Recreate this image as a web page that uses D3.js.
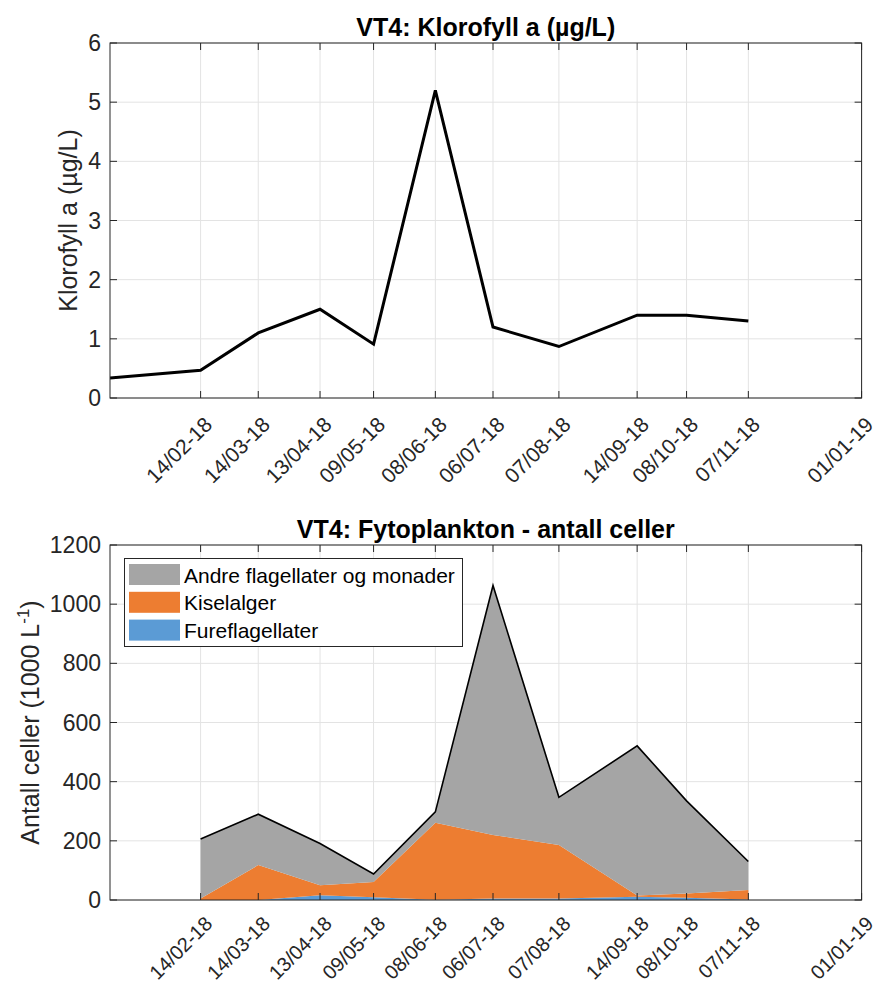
<!DOCTYPE html>
<html>
<head>
<meta charset="utf-8">
<script src="https://cdn.jsdelivr.net/npm/d3@7"></script>
<style>
  body { margin: 0; background: #fff; }
  text { font-family: "Liberation Sans", Arial, Helvetica, sans-serif; fill: #262626; }
</style>
</head>
<body>
<div id="chart"></div>
<script>
// Sample dates (also used as x ticks)
const sampleDates = ['2018-02-14', '2018-03-14', '2018-04-13', '2018-05-09', '2018-06-08',
  '2018-07-06', '2018-08-07', '2018-09-14', '2018-10-08', '2018-11-07']
const extraTick = '2019-01-01'

// Klorofyll a (µg/L), first point at the start of the axis
const chlDates = ['2018-01-01', ...sampleDates]
const chlValues = [0.34, 0.47, 1.1, 1.5, 0.91, 5.2, 1.2, 0.87, 1.4, 1.4, 1.3]

// Fytoplankton (1000 celler/L)
const fureflagellater = [0, 0, 16, 9, 1, 5, 5, 11, 8, 2]
const kiselalger = [5, 118, 34, 52, 260, 215, 181, 4, 14, 32]
const andre = [201, 172, 141, 27, 37, 843, 161, 506, 313, 96]

const seriesNames = ['Fureflagellater', 'Kiselalger', 'Andre flagellater og monader']
const seriesColors = ['#5b9bd5', '#ed7d31', '#a5a5a5']

const chlTicks = [0, 1, 2, 3, 4, 5, 6]
const cellTicks = [0, 200, 400, 600, 800, 1000, 1200]

const width = 878
const height = 989
const parse = d3.utcParse('%Y-%m-%d')
const fmt = d3.utcFormat('%d/%m-%y')

const svg = d3.select('#chart').append('svg')
  .attr('width', width)
  .attr('height', height)

svg.append('rect').attr('width', width).attr('height', height).attr('fill', '#fff')

const x = d3.scaleUtc()
  .domain([parse('2018-01-01'), parse('2019-01-01')])
  .range([110, 861.6])

const xTicks = [...sampleDates, extraTick].map(parse)

// Draws grid, title and tick labels for one panel
function drawAxes(y, yTicks, title, top, bottom, labelSize, labelOffset) {
  const g = svg.append('g')

  // grid
  g.selectAll('.vgrid').data(xTicks).join('line')
    .attr('x1', d => x(d)).attr('x2', d => x(d))
    .attr('y1', top).attr('y2', bottom)
    .attr('stroke', '#e3e3e3').attr('stroke-width', 1)
  g.selectAll('.hgrid').data(yTicks).join('line')
    .attr('x1', x.range()[0]).attr('x2', x.range()[1])
    .attr('y1', d => y(d)).attr('y2', d => y(d))
    .attr('stroke', '#e3e3e3').attr('stroke-width', 1)

  // title
  g.append('text')
    .attr('x', (x.range()[0] + x.range()[1]) / 2)
    .attr('y', top - 7)
    .attr('text-anchor', 'middle')
    .attr('font-size', 25)
    .attr('font-weight', 'bold')
    .style('fill', '#000')
    .text(title)

  // y tick labels
  g.selectAll('.ylab').data(yTicks).join('text')
    .attr('x', 101)
    .attr('y', d => y(d))
    .attr('dy', '0.35em')
    .attr('text-anchor', 'end')
    .attr('font-size', 23)
    .text(d => d)

  // x tick labels, rotated
  g.selectAll('.xlab').data(xTicks).join('text')
    .attr('transform', d => `translate(${x(d) + 13},${bottom + labelOffset}) rotate(-45)`)
    .attr('text-anchor', 'end')
    .attr('font-size', labelSize)
    .text(d => fmt(d))

  return g
}

function drawFrame(y, yTicks, top, bottom) {
  const g = svg.append('g')
  const [x0, x1] = x.range()
  const tl = 7
  g.selectAll('.xt').data(xTicks).join('path')
    .attr('d', d => `M${x(d)},${bottom}v${-tl}M${x(d)},${top}v${tl}`)
    .attr('stroke', '#262626').attr('stroke-width', 1)
  g.selectAll('.yt').data(yTicks).join('path')
    .attr('d', d => `M${x0},${y(d)}h${tl}M${x1},${y(d)}h${-tl}`)
    .attr('stroke', '#262626').attr('stroke-width', 1)
  g.append('rect')
    .attr('x', x0).attr('y', top)
    .attr('width', x1 - x0).attr('height', bottom - top)
    .attr('fill', 'none').attr('stroke', '#262626').attr('stroke-width', 1)
}

// ---------- Top panel: Klorofyll a ----------
const top1 = 43, bot1 = 398
const y1 = d3.scaleLinear().domain([0, 6]).range([bot1, top1])
drawAxes(y1, chlTicks, 'VT4: Klorofyll a (µg/L)', top1, bot1, 21, 28)

svg.append('clipPath').attr('id', 'clip1')
  .append('rect').attr('x', x.range()[0]).attr('y', top1)
  .attr('width', x.range()[1] - x.range()[0]).attr('height', bot1 - top1)

const chlData = chlDates.map((d, i) => ({ date: parse(d), value: chlValues[i] }))
svg.append('path')
  .datum(chlData)
  .attr('clip-path', 'url(#clip1)')
  .attr('d', d3.line().x(d => x(d.date)).y(d => y1(d.value)))
  .attr('fill', 'none')
  .attr('stroke', '#000')
  .attr('stroke-width', 3)
  .attr('stroke-linejoin', 'miter')

drawFrame(y1, chlTicks, top1, bot1)

svg.append('text')
  .attr('transform', `translate(77,${(top1 + bot1) / 2}) rotate(-90)`)
  .attr('text-anchor', 'middle')
  .attr('font-size', 25)
  .text('Klorofyll a (µg/L)')

// ---------- Bottom panel: Fytoplankton ----------
const top2 = 545, bot2 = 900
const y2 = d3.scaleLinear().domain([0, 1200]).range([bot2, top2])
drawAxes(y2, cellTicks, 'VT4: Fytoplankton - antall celler', top2, bot2, 20, 25)

const rows = sampleDates.map((d, i) => ({
  date: parse(d),
  fure: fureflagellater[i],
  kisel: kiselalger[i],
  andre: andre[i],
}))
const stack = d3.stack().keys(['fure', 'kisel', 'andre'])
const layers = stack(rows)

const area = d3.area()
  .x(d => x(d.data.date))
  .y0(d => y2(d[0]))
  .y1(d => y2(d[1]))

svg.append('g').selectAll('path').data(layers).join('path')
  .attr('d', area)
  .attr('fill', (d, i) => seriesColors[i])

// black outline along the total
svg.append('path')
  .datum(layers[2])
  .attr('d', d3.line().x(d => x(d.data.date)).y(d => y2(d[1])))
  .attr('fill', 'none')
  .attr('stroke', '#000')
  .attr('stroke-width', 1.6)

drawFrame(y2, cellTicks, top2, bot2)

const yl = svg.append('text')
  .attr('transform', `translate(39,${(top2 + bot2) / 2}) rotate(-90)`)
  .attr('text-anchor', 'middle')
  .attr('font-size', 25)
yl.append('tspan').text('Antall celler (1000 L')
yl.append('tspan').attr('font-size', 17).attr('dy', -10).text('-1')
yl.append('tspan').attr('dy', 10).text(')')

// legend
const legend = svg.append('g')
legend.append('rect')
  .attr('x', 124.5).attr('y', 558.5)
  .attr('width', 338).attr('height', 88)
  .attr('fill', '#fff').attr('stroke', '#262626').attr('stroke-width', 1)

const legendOrder = [2, 1, 0]
legendOrder.forEach((s, i) => {
  const ly = 564 + i * 27.8
  legend.append('rect')
    .attr('x', 129).attr('y', ly)
    .attr('width', 51).attr('height', 21)
    .attr('fill', seriesColors[s])
  legend.append('text')
    .attr('x', 184).attr('y', ly + 18.5)
    .attr('font-size', 21)
    .style('fill', '#000')
    .text(seriesNames[s])
})
</script>
</body>
</html>
